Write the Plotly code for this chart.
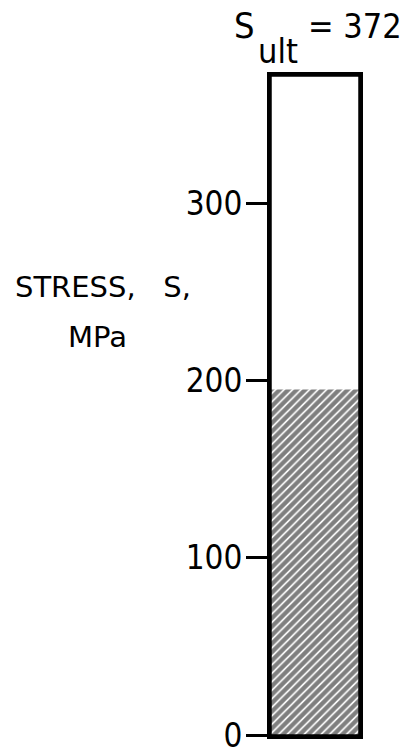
import plotly.graph_objects as go

# data
categories = ["S"]
ultimate = [372]
stress_level = [195]
tick_values = [0, 100, 200, 300]
tick_labels = ["0", "100", "200", "300"]

FONT = "DejaVu Sans Condensed, DejaVu Sans, sans-serif"
LW = 4

# page has an 8px body margin, so the figure starts at (8, 8)
OFF = 8
W, H = 408 - OFF, 754 - OFF
# plot area sits just inside the frame lines (frame centred on 269/361/74/737)
L, R, T, B = 271 - OFF, 408 - 359, 76 - OFF, 754 - 735
PW, PH = W - L - R, H - T - B


def px(x):
    # page x pixel -> paper coordinate
    return (x - OFF - L) / PW


def py(y):
    # page y pixel -> paper coordinate
    return 1 - (y - OFF - T) / PH


fig = go.Figure()

# hatched portion (applied stress)
fig.add_trace(
    go.Bar(
        x=categories,
        y=stress_level,
        width=1,
        marker=dict(
            color="white",
            line=dict(width=0),
            pattern=dict(shape="/", fgcolor="black", bgcolor="white", size=6, solidity=0.72),
        ),
        showlegend=False,
    )
)

# outline of full bar (ultimate strength)
fig.add_trace(
    go.Bar(
        x=categories,
        y=ultimate,
        width=1,
        marker=dict(color="rgba(0,0,0,0)", line=dict(color="black", width=1.5)),
        showlegend=False,
    )
)

fig.add_annotation(text="S", xref="paper", yref="paper", x=px(232), y=py(25),
                   xanchor="left", yanchor="middle", showarrow=False,
                   font=dict(family=FONT, size=36, color="black"))
fig.add_annotation(text="ult", xref="paper", yref="paper", x=px(256), y=py(51),
                   xanchor="left", yanchor="middle", showarrow=False,
                   font=dict(family=FONT, size=34, color="black"))
fig.add_annotation(text=f"= {ultimate[0]}", xref="paper", yref="paper", x=px(404), y=py(26),
                   xanchor="right", yanchor="middle", showarrow=False,
                   font=dict(family=FONT, size=34, color="black"))

label_font = dict(family="DejaVu Sans, sans-serif", size=29, color="black")
fig.add_annotation(text="STRESS,   S,", xref="paper", yref="paper", x=px(103), y=py(287),
                   xanchor="center", yanchor="middle", showarrow=False, font=label_font)
fig.add_annotation(text="MPa", xref="paper", yref="paper", x=px(97), y=py(337),
                   xanchor="center", yanchor="middle", showarrow=False, font=label_font)

fig.update_layout(
    barmode="overlay",
    width=W,
    height=H,
    paper_bgcolor="white",
    plot_bgcolor="white",
    margin=dict(l=L, r=R, t=T, b=B, autoexpand=False),
    xaxis=dict(range=[-0.5, 0.5], showticklabels=False, showgrid=False, zeroline=False,
               showline=True, linecolor="black", linewidth=LW, mirror=True,
               ticks="", automargin=False),
    yaxis=dict(
        range=[0, ultimate[0]],
        tickvals=tick_values,
        ticktext=tick_labels,
        ticks="outside",
        ticklen=21,
        tickwidth=3,
        tickcolor="black",
        ticklabelstandoff=-3,
        ticklabeloverflow="allow",
        automargin=False,
        showgrid=False,
        zeroline=False,
        showline=True,
        linecolor="black",
        linewidth=LW,
        mirror=True,
        tickfont=dict(family=FONT, size=33, color="black"),
    ),
)

fig.write_html("out.html")
